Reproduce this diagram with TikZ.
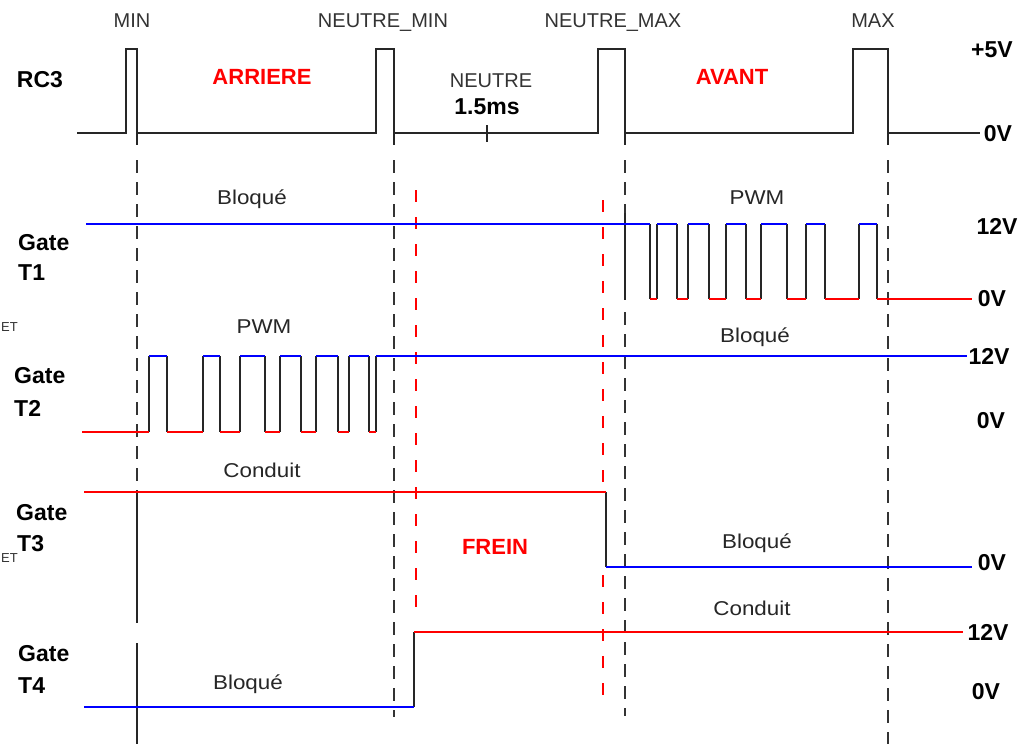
\documentclass[tikz,border=0pt]{standalone}
\usepackage{fontspec}
\setmainfont{Liberation Sans}
\newfontfamily\wfont{Liberation Sans}[FakeStretch=1.12]
\begin{document}
\begin{tikzpicture}[x=1pt,y=-1pt,
  toplbl/.style={inner sep=0pt, text height=14.3pt, text depth=0pt, font=\fontsize{20}{20}\selectfont, text=black!80},
  wlbl/.style={inner sep=0pt, text height=14.3pt, text depth=0pt, font=\wfont\fontsize{20}{20}\selectfont, text=black!85},
  blbl/.style={inner sep=0pt, text height=16.5pt, text depth=0pt, font=\bfseries\fontsize{23}{23}\selectfont},
  rlbl/.style={inner sep=0pt, text height=15.8pt, text depth=0pt, font=\bfseries\fontsize{22}{22}\selectfont, text=red},
  etlbl/.style={inner sep=0pt, text height=9.3pt, text depth=0pt, font=\fontsize{13}{13}\selectfont, text=black!80},
  sig/.style={line width=1.3pt, black!85},
  hi/.style={line width=1.6pt, blue},
  lo/.style={line width=1.6pt, red},
  guide/.style={line width=1.4pt, black!80, dash pattern=on 13pt off 9pt},
  rguide/.style={line width=1.4pt, red, dash pattern=on 12pt off 15pt}]
\fill[white] (0,0) rectangle (1021,744);
\useasboundingbox (0,0) rectangle (1021,744);

% ---- guide lines ----
\draw[guide] (137,160) -- (137,490);
\draw[sig] (137,490) -- (137,623);
\draw[sig] (137,643) -- (137,744);
\draw[guide] (394,160) -- (394,717);
\draw[guide] (625,160) -- (625,213);
\draw[sig] (625,213) -- (625,300);
\draw[guide] (625,312) -- (625,716);
\draw[guide] (888,160) -- (888,744);
\draw[rguide] (416,190) -- (416,617);
\draw[rguide] (603,200) -- (603,492);
\draw[rguide] (603,575) -- (603,695);

% ---- RC3 ----
\draw[sig] (77,133) -- (126,133) -- (126,49) -- (137,49) -- (137,145)
  (137,133) -- (376,133) -- (376,49) -- (394,49) -- (394,145)
  (394,133) -- (598,133) -- (598,49) -- (625,49) -- (625,145)
  (625,133) -- (853,133) -- (853,49) -- (888,49) -- (888,145)
  (888,133) -- (980,133);
\draw[sig] (487,125) -- (487,142);

% ---- Gate T1 ----
\foreach \x in {650,657,677,688,709,726,746,761,787,806,825,859,877}
  \draw[sig] (\x,224) -- (\x,299);
\foreach \a/\b in {86/650,657/677,688/709,726/746,761/787,806/825,859/877}
  \draw[hi] (\a,224) -- (\b,224);
\foreach \a/\b in {650/657,677/688,709/726,746/761,787/806,825/859,877/972}
  \draw[lo] (\a,299) -- (\b,299);

% ---- Gate T2 ----
\foreach \x in {149,167,203,220,240,265,280,301,316,338,349,369,376}
  \draw[sig] (\x,356) -- (\x,432);
\foreach \a/\b in {149/167,203/220,240/265,280/301,316/338,349/369,376/967}
  \draw[hi] (\a,356) -- (\b,356);
\foreach \a/\b in {82/149,167/203,220/240,265/280,301/316,338/349,369/376}
  \draw[lo] (\a,432) -- (\b,432);

% ---- Gate T3 ----
\draw[sig] (606,492) -- (606,567);
\draw[lo] (84,492) -- (606,492);
\draw[hi] (606,567) -- (972,567);

% ---- Gate T4 ----
\draw[sig] (414,707) -- (414,632);
\draw[hi] (84,707) -- (414,707);
\draw[lo] (414,632) -- (963,632);

% ---- top labels ----
\node[toplbl] (tmin) at (132,20) {MIN};
\node[toplbl] (tnmin) at (383,20) {NEUTRE\_MIN};
\node[toplbl] (tnmax) at (613,20) {NEUTRE\_MAX};
\node[toplbl] (tmax) at (873,20) {MAX};
\node[toplbl] (tneutre) at (491,80) {NEUTRE};
\node[blbl] (t15) at (487,106) {1.5ms};
\node[rlbl] (tarr) at (262,77) {ARRIERE};
\node[rlbl] (tav) at (732,77) {AVANT};
\node[rlbl] (tfrein) at (495,547) {FREIN};

% ---- left labels ----
\node[blbl] (rc3) at (40,79) {RC3};
\node[blbl, anchor=west] (g1) at (18,242) {Gate};
\node[blbl, anchor=west] (g1t) at (18,272) {T1};
\node[blbl, anchor=west] (g2) at (14,375) {Gate};
\node[blbl, anchor=west] (g2t) at (14,408) {T2};
\node[blbl, anchor=west] (g3) at (16,512) {Gate};
\node[blbl, anchor=west] (g3t) at (17,543) {T3};
\node[blbl, anchor=west] (g4) at (18,653) {Gate};
\node[blbl, anchor=west] (g4t) at (18,685) {T4};
\node[etlbl, anchor=west] (et1) at (1,327) {ET};
\node[etlbl, anchor=west] (et2) at (1,558) {ET};

% ---- right labels ----
\node[blbl] (v5) at (992,49) {+5V};
\node[blbl] (v0a) at (998,133) {0V};
\node[blbl] (v12a) at (997,226) {12V};
\node[blbl] (v0b) at (992,298) {0V};
\node[blbl] (v12b) at (989,356) {12V};
\node[blbl] (v0c) at (991,420) {0V};
\node[blbl] (v0d) at (992,562) {0V};
\node[blbl] (v12c) at (988,632) {12V};
\node[blbl] (v0e) at (986,691) {0V};

% ---- signal labels ----
\node[wlbl] (s1) at (252,197) {Bloqué};
\node[wlbl] (s2) at (757,197) {PWM};
\node[wlbl] (s3) at (264,326) {PWM};
\node[wlbl] (s4) at (755,335) {Bloqué};
\node[wlbl] (s5) at (262,470) {Conduit};
\node[wlbl] (s6) at (757,541) {Bloqué};
\node[wlbl] (s7) at (752,608) {Conduit};
\node[wlbl] (s8) at (248,682) {Bloqué};
\end{tikzpicture}
\end{document}
